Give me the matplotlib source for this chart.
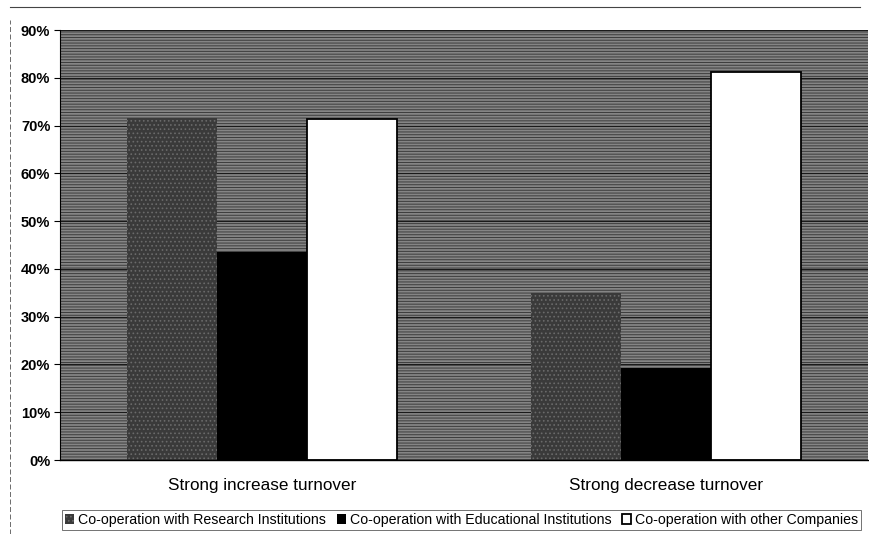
import numpy as np
import matplotlib.pyplot as plt
from matplotlib.patches import Rectangle
from matplotlib.lines import Line2D

plt.rcParams['font.family'] = ['Liberation Sans', 'DejaVu Sans']
plt.rcParams['hatch.linewidth'] = 0.7

# Доли предприятий по типу кооперации
categories = ['Strong increase turnover', 'Strong decrease turnover']
series = ['Co-operation with Research Institutions',
          'Co-operation with Educational Institutions',
          'Co-operation with other Companies']
research = [71.6, 35.0]
educational = [43.6, 19.3]
companies = [71.4, 81.3]
yticks = [0, 10, 20, 30, 40, 50, 60, 70, 80, 90]

fig = plt.figure(figsize=(8.69, 5.34), dpi=100)
ax = fig.add_axes([60 / 869, 74 / 534, 808 / 869, 430 / 534])

# Фон области построения: серый с горизонтальной штриховкой
ax.set_facecolor('#858585')
ax.add_patch(Rectangle((0, 0), 1, 1, transform=ax.transAxes, facecolor='none',
                       edgecolor='#3c3c3c', hatch='------', lw=0, zorder=0))

for y in yticks[1:]:
    ax.axhline(y, color='#1a1a1a', lw=0.8, zorder=1)

x = np.arange(len(categories))
w = 0.222
ax.bar(x - w, research, w, color='#3a3a3a', edgecolor='#6a6a6a', hatch='....',
       lw=0, zorder=2, label=series[0])
ax.bar(x, educational, w, color='black', edgecolor='black', lw=0, zorder=2,
       label=series[1])
ax.bar(x + w, companies, w, color='white', edgecolor='black', lw=1.3, zorder=2,
       label=series[2])

ax.set_xlim(-0.5, 1.5)
ax.set_ylim(0, 90)
ax.set_yticks(yticks)
ax.set_yticklabels([f'{v}%' for v in yticks], fontsize=10.5, fontweight='bold')
ax.set_xticks(x)
ax.set_xticklabels(categories, fontsize=12.3)
ax.tick_params(axis='x', length=0, pad=13)
ax.tick_params(axis='y', length=4, width=0.8, pad=3)
for s in ['top', 'right']:
    ax.spines[s].set_visible(False)
ax.spines['left'].set_linewidth(0.8)
ax.spines['bottom'].set_linewidth(1.0)

leg = fig.legend(loc='center left', bbox_to_anchor=(62 / 869, 1 - 520 / 534), ncol=3,
                 fontsize=10.2, frameon=True, fancybox=False, edgecolor='#333333',
                 handlelength=0.65, handleheight=0.65, handletextpad=0.28,
                 columnspacing=0.75, borderpad=0.2, borderaxespad=0)
leg.get_frame().set_linewidth(0.6)

# Рамка области диаграммы: сверху и слева
fig.add_artist(Line2D([10 / 869, 10 / 869], [0, 1 - 20 / 534],
                      transform=fig.transFigure, ls=(0, (6, 3)), lw=0.6,
                      color='#555555'))
fig.add_artist(Line2D([10 / 869, 860 / 869], [1 - 7 / 534, 1 - 7 / 534],
                      transform=fig.transFigure, lw=0.8, color='#444444'))

fig.savefig('out.png', dpi=100)
